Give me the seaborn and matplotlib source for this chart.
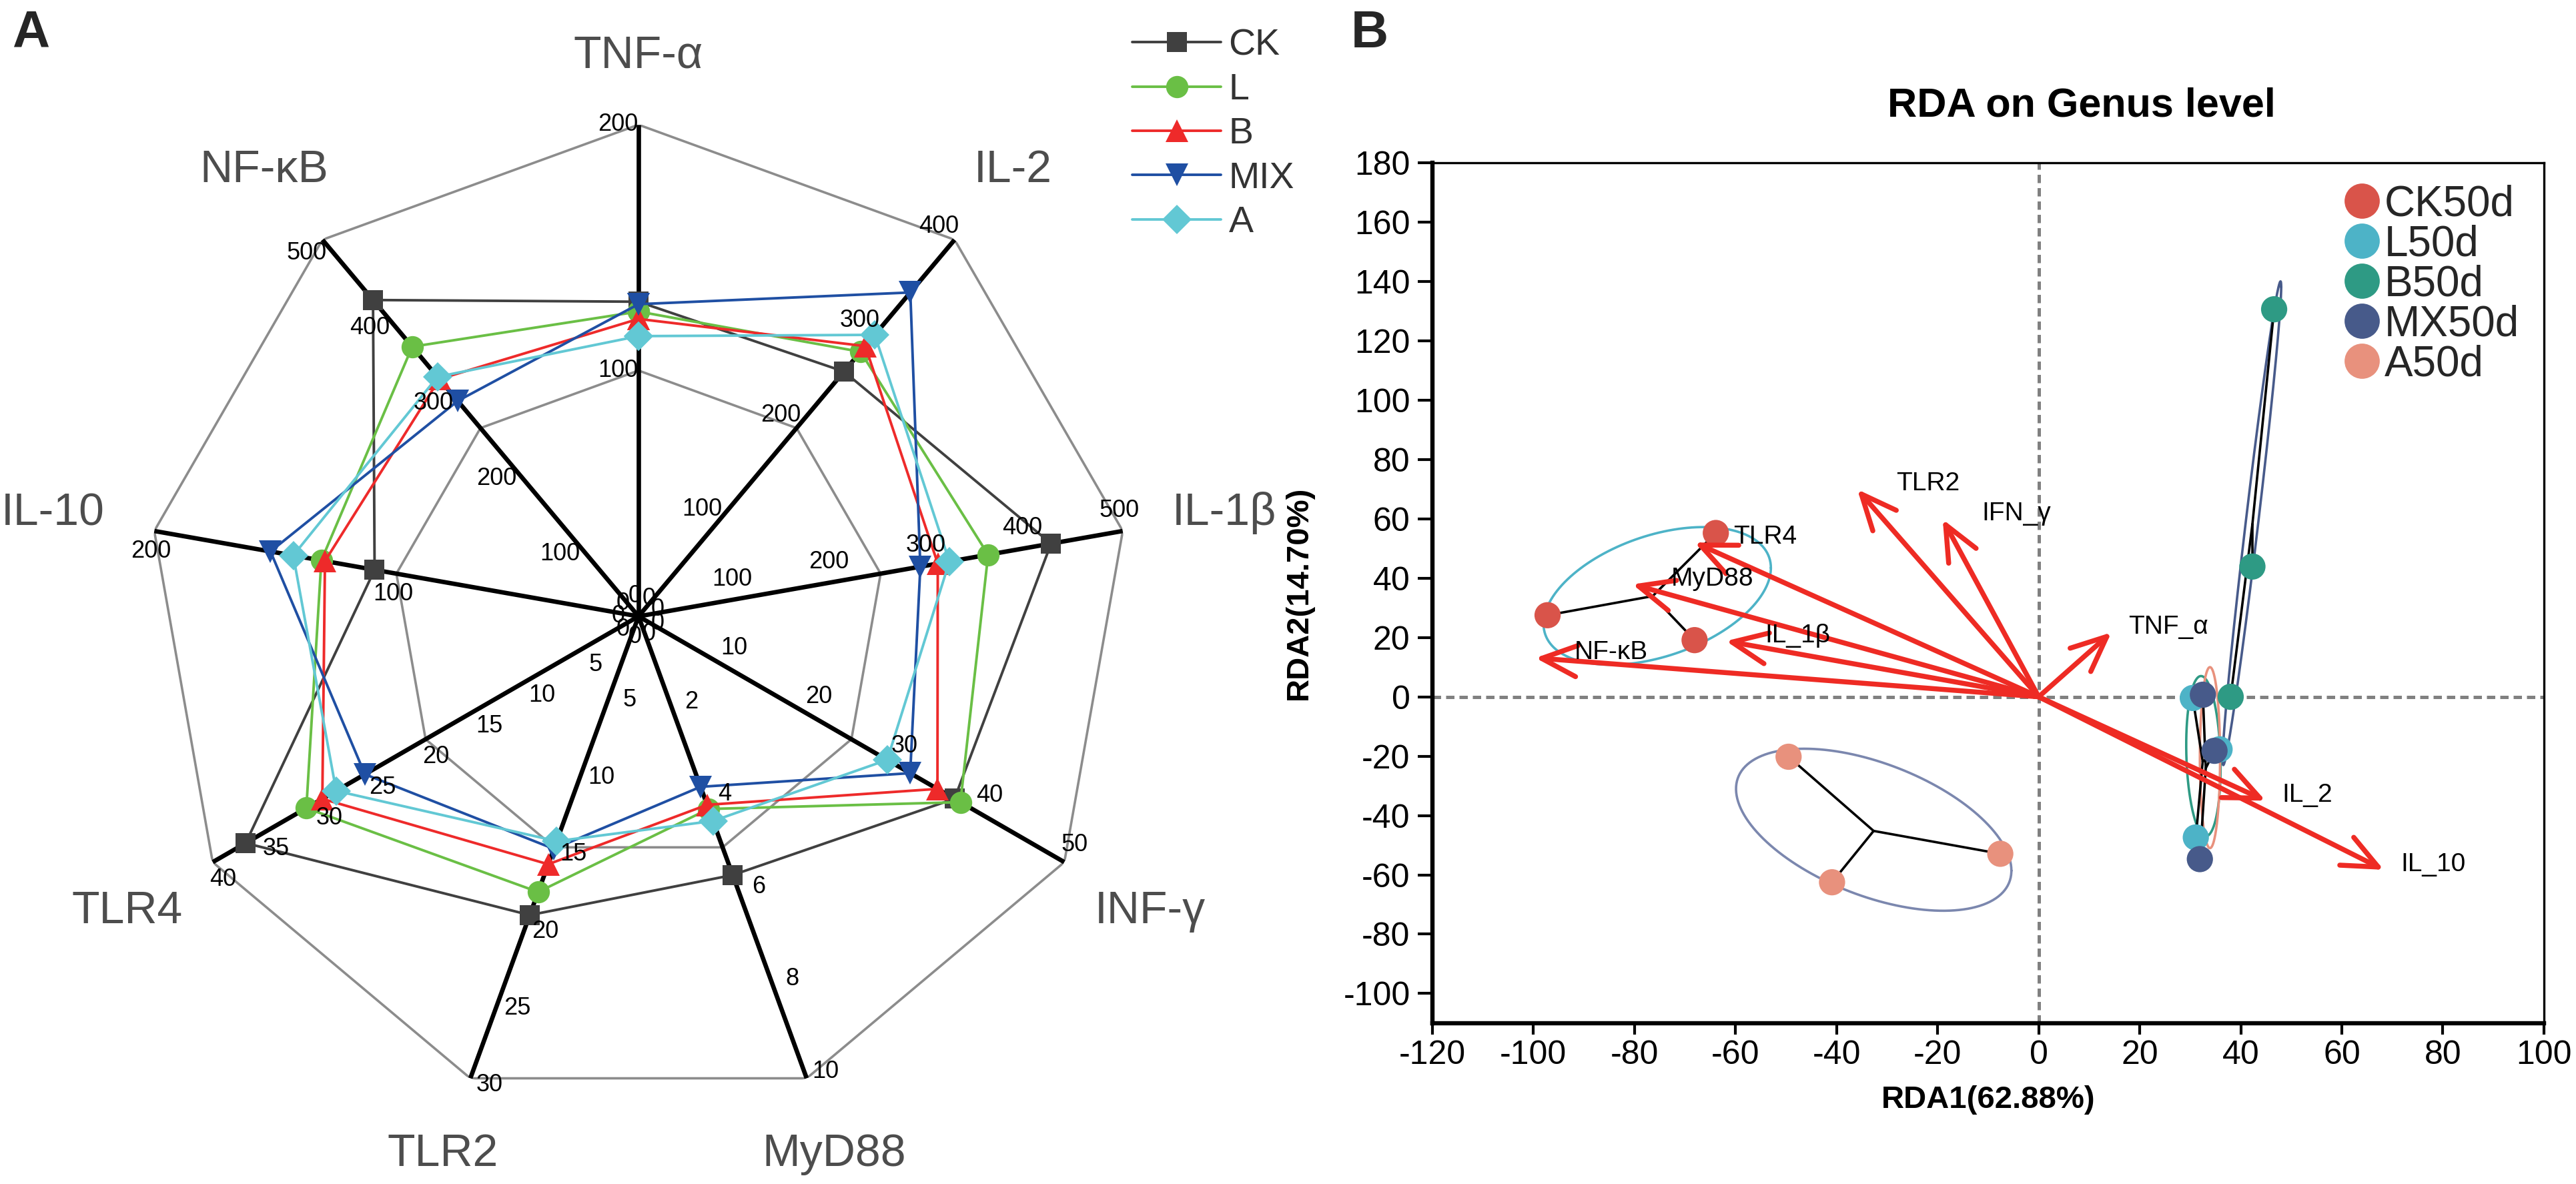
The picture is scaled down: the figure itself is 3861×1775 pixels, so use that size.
import numpy as np
import pandas as pd
import seaborn as sns
import matplotlib.pyplot as plt
from matplotlib import font_manager
from matplotlib.lines import Line2D

# ---------------- panel A : radar data ----------------
radar_axes = ['TNF-α', 'IL-2', 'IL-1β', 'INF-γ', 'MyD88', 'TLR2', 'TLR4', 'IL-10', 'NF-κB']
radar_max = [200, 400, 500, 50, 10, 30, 40, 200, 500]
radar_ticks = [
    [0, 100, 200],
    [0, 100, 200, 300, 400],
    [0, 100, 200, 300, 400, 500],
    [0, 10, 20, 30, 40, 50],
    [0, 2, 4, 6, 8, 10],
    [0, 5, 10, 15, 20, 25, 30],
    [0, 5, 10, 15, 20, 25, 30, 35, 40],
    [0, 100, 200],
    [0, 100, 200, 300, 400, 500],
]
ck_vals = [128, 260, 426, 37.1, 5.6, 19.4, 36.9, 109, 420]
l_vals = [124, 281, 361, 37.8, 4.17, 17.9, 31.2, 131, 358]
b_vals = [121, 287, 309, 35.1, 4.08, 16.1, 29.7, 129.5, 315]
mix_vals = [127, 344, 291, 31.9, 3.69, 15.1, 25.7, 152, 286]
a_vals = [114, 299, 321, 29.2, 4.43, 14.6, 28.4, 142.6, 318]
radar_groups = ['CK', 'L', 'B', 'MIX', 'A']

# ---------------- panel B : RDA data ----------------
rda_group = ['CK50d'] * 3 + ['L50d'] * 3 + ['B50d'] * 3 + ['MX50d'] * 3 + ['A50d'] * 3
rda1 = [-63.9, -97.2, -68.1, 30.5, 35.8, 31.1, 46.6, 42.3, 38.0, 32.5, 34.8, 31.9, -49.5, -40.9, -7.6]
rda2 = [55.2, 27.5, 19.1, -0.4, -17.7, -47.4, 130.6, 43.9, 0.0, 0.7, -18.2, -54.7, -20.2, -62.5, -52.9]

env_names = ['TLR2', 'IFN_γ', 'TLR4', 'MyD88', 'IL_1β', 'NF-κB', 'TNF_α', 'IL_2', 'IL_10']
env_x = [-35.9, -19.0, -68.1, -80.4, -61.9, -99.6, 14.4, 44.9, 68.3]
env_y = [69.9, 59.8, 52.0, 37.9, 18.8, 13.1, 21.7, -35.0, -58.3]

# confidence ellipses: centre, half ranges and phase (deg)
ell_cx = [-75.5, -32.65, 42.2, 32.6, 33.9]
ell_cy = [34.0, -44.8, 58.5, -20.0, -20.5]
ell_ax = [22.5, 27.25, 5.8, 3.4, 2.0]
ell_ay = [23.2, 27.3, 81.5, 27.0, 30.5]
ell_phase = [66, 120.3, 12.4, 98, 90]

# ---------------- style ----------------
sns.set_theme(style='white')
plt.rcParams['font.family'] = ['Liberation Sans', 'DejaVu Sans']
plt.rcParams['axes.unicode_minus'] = False
names = {f.name for f in font_manager.fontManager.ttflist}
narrow = 'Liberation Sans Narrow' if 'Liberation Sans Narrow' in names else 'Liberation Sans'

radar_colors = ['#404040', '#6abf45', '#ee2a2a', '#1f4fa3', '#62c8d4']
radar_markers = ['s', 'o', '^', 'v', 'D']
radar_ms = [11, 12, 12, 12, 11]

rda_palette = {'CK50d': '#d9544a', 'L50d': '#4db3c7', 'B50d': '#2e9a84',
               'MX50d': '#475a8a', 'A50d': '#e8917d'}
ell_colors = ['#4db3c7', '#7b87ae', '#475a8a', '#2e9a84', '#e8917d']
arrow_red = '#ee2b24'

fig = plt.figure(figsize=(19.31, 8.875), dpi=200)

# ================= panel A =================
axA = fig.add_axes([0.05697, 0.06423, 0.38167, 0.83042], projection='polar')
axA.set_theta_offset(np.pi / 2)
axA.set_theta_direction(-1)
axA.set_ylim(0, 1)
axA.grid(False)
axA.set_xticks([])
axA.set_yticks([])
axA.spines['polar'].set_visible(False)
axA.patch.set_alpha(0)

theta = np.deg2rad(np.arange(len(radar_axes)) * 40)
th_closed = np.append(theta, theta[0])

# rings at half and full scale
for frac in (0.5, 1.0):
    axA.plot(th_closed, np.full(len(th_closed), frac), color='#8c8c8c', lw=1.3, zorder=1)
# spokes
for th in theta:
    axA.plot([th, th], [0, 1], color='black', lw=2.4, zorder=2, solid_capstyle='butt')

all_vals = [ck_vals, l_vals, b_vals, mix_vals, a_vals]
for name, vals, c, m, ms in zip(radar_groups, all_vals, radar_colors, radar_markers, radar_ms):
    r = np.array(vals) / np.array(radar_max)
    r = np.append(r, r[0])
    axA.plot(th_closed, r, color=c, lw=1.4, marker=m, ms=ms, mec=c, mew=0,
             label=name, zorder=3)

# tick labels along each spoke
for th, ticks, mx in zip(theta, radar_ticks, radar_max):
    a = np.pi / 2 - th
    off = (11 * np.cos(a + np.pi / 2), 11 * np.sin(a + np.pi / 2))
    for t in ticks:
        axA.annotate(f'{t:g}', xy=(th, t / mx), xytext=off, textcoords='offset points',
                     ha='center', va='center', fontsize=13, family=narrow, color='black',
                     zorder=4)

# category labels
for th, lab in zip(theta, radar_axes):
    a = np.pi / 2 - th
    rr = 1.14 + 0.07 * abs(np.cos(a))
    axA.text(th, rr, lab, ha='center', va='center', fontsize=24.5, color='#4d4d4d',
             family=narrow)

h, lbl = axA.get_legend_handles_labels()
legA = fig.legend(h, lbl, loc='upper left', bbox_to_anchor=(0.4394, 0.976), frameon=False,
                  fontsize=20, handlelength=2.4, handletextpad=0.2, labelspacing=0.26,
                  borderpad=0, borderaxespad=0)
for t in legA.get_texts():
    t.set_color('#333333')

# ================= panel B =================
axB = fig.add_axes([0.5559, 0.1358, 0.4314, 0.7268])
axB.set_xlim(-120, 100)
axB.set_ylim(-110, 180)

dash = (0, (2.5, 1.5))
axB.axhline(0, color='#808080', lw=1.8, ls=dash, zorder=0)
axB.axvline(0, color='#808080', lw=1.8, ls=dash, zorder=0)

# ellipses
t = np.linspace(0, 2 * np.pi, 300)
for cx, cy, ex, ey, ph, c in zip(ell_cx, ell_cy, ell_ax, ell_ay, ell_phase, ell_colors):
    axB.plot(cx + ex * np.cos(t), cy + ey * np.cos(t - np.deg2rad(ph)), color=c, lw=1.3, zorder=1)

df = pd.DataFrame({'group': rda_group, 'RDA1': rda1, 'RDA2': rda2})

# spider lines from group centroids
for g, sub in df.groupby('group', sort=False):
    mx_, my_ = sub['RDA1'].mean(), sub['RDA2'].mean()
    for _, row in sub.iterrows():
        axB.plot([mx_, row['RDA1']], [my_, row['RDA2']], color='black', lw=1.3, zorder=2)

sns.scatterplot(data=df, x='RDA1', y='RDA2', hue='group', palette=rda_palette, s=200,
                linewidth=0, ax=axB, legend=False, zorder=3)

# environmental arrows
for name, x, y in zip(env_names, env_x, env_y):
    axB.annotate('', xy=(x, y), xytext=(0, 0),
                 arrowprops=dict(arrowstyle='->,head_length=0.95,head_width=0.42',
                                 color=arrow_red, lw=2.7, shrinkA=0, shrinkB=0,
                                 mutation_scale=20), zorder=5)
    dx = 21 if x < 0 else 9
    axB.annotate(name, xy=(x, y), xytext=(dx, 3), textcoords='offset points',
                 ha='left', va='center', fontsize=14, color='black', zorder=6)

handles = [Line2D([], [], ls='', marker='o', ms=19, color=rda_palette[g], mec='none')
           for g in rda_palette]
axB.legend(handles, list(rda_palette), loc='upper left', bbox_to_anchor=(0.817, 0.975),
           frameon=False, fontsize=23, handlelength=1.0, handletextpad=0.03,
           labelspacing=0.0, borderpad=0, borderaxespad=0)

axB.set_xticks(range(-120, 101, 20))
axB.set_yticks(range(-100, 181, 20))
axB.tick_params(axis='x', bottom=True, direction='out', length=6, width=1.5,
                labelsize=18, pad=3, colors='black')
axB.tick_params(axis='y', left=True, direction='out', length=8, width=1.5,
                labelsize=18, pad=4, colors='black')
for side, w in (('left', 2.3), ('bottom', 2.3), ('top', 1.2), ('right', 1.2)):
    axB.spines[side].set_color('black')
    axB.spines[side].set_linewidth(w)

axB.set_xlabel('RDA1(62.88%)', fontsize=17, fontweight='bold', labelpad=8, color='black')
axB.set_ylabel('RDA2(14.70%)', fontsize=17, fontweight='bold', labelpad=16, color='black')
axB.text(0.584, 1.0535, 'RDA on Genus level', transform=axB.transAxes, ha='center',
         va='baseline', fontsize=22, fontweight='bold', color='black')

fig.text(18 / 3862, 1 - 14 / 1775, 'A', fontsize=28, fontweight='bold', va='top', ha='left')
fig.text(2025 / 3862, 1 - 14 / 1775, 'B', fontsize=28, fontweight='bold', va='top', ha='left')

fig.savefig('out.png', dpi=200, facecolor='white')
